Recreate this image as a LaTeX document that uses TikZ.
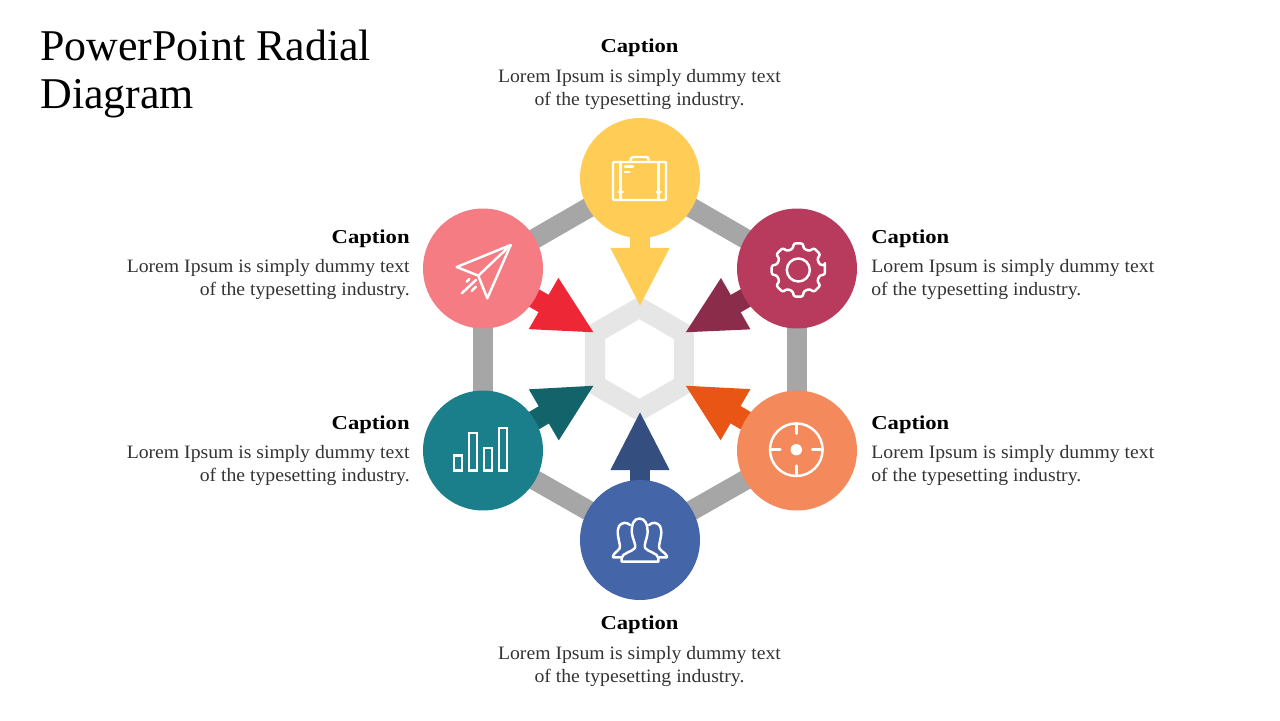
\documentclass[tikz,border=0pt]{standalone}
\usepackage{fontspec}
\setmainfont{Liberation Serif}
\newfontfamily\bodyfont{Liberation Serif}[FakeStretch=1.04]
\newfontfamily\capfont{Liberation Serif}[FakeStretch=1.15,BoldFont={Liberation Serif Bold}]
\usetikzlibrary{arrows.meta,backgrounds}
\definecolor{cyellow}{HTML}{FFCC55}
\definecolor{cpink}{HTML}{F47C82}
\definecolor{cmaroon}{HTML}{B83B5E}
\definecolor{corange}{HTML}{F48A5C}
\definecolor{cblue}{HTML}{4565A9}
\definecolor{cteal}{HTML}{1A7F8A}
\definecolor{dred}{HTML}{EE2737}
\definecolor{dmaroon}{HTML}{8B2C4B}
\definecolor{dorange}{HTML}{E95514}
\definecolor{dblue}{HTML}{344E80}
\definecolor{dteal}{HTML}{13636B}
\definecolor{cgrey}{HTML}{A6A6A6}
\definecolor{chub}{HTML}{E6E6E6}
\definecolor{ctext}{HTML}{333333}
\tikzset{
  x=0.02cm,y=-0.02cm,
  disc/.style={circle,minimum size=2.4cm,inner sep=0pt,outer sep=0pt},
  ring/.style={draw=cgrey,line width=11.4pt},
  hubline/.style={draw=chub,line width=11.4pt,line join=miter},
  pointer/.style={line width=11.4pt,-{Triangle[length=33.6pt,width=31pt]}},
  icon/.style={draw=white,line width=1.4pt,line join=round,line cap=round},
  titletxt/.style={inner sep=0pt,font=\fontsize{25}{27.3}\selectfont,anchor=base west,text=black},
  captxt/.style={inner sep=0pt,font=\capfont\bfseries\fontsize{11.2}{13}\selectfont,text=black},
  bodytxt/.style={inner sep=0pt,font=\bodyfont\fontsize{10.78}{13.1}\selectfont,text=ctext},
}
\begin{document}
\begin{tikzpicture}
\useasboundingbox (0,0) rectangle (1280,720);
\node[disc,fill=cyellow] (top) at (640,178) {};
\node[disc,fill=cmaroon] (ur) at (797,268.5) {};
\node[disc,fill=corange] (lr) at (797,450.5) {};
\node[disc,fill=cblue] (bot) at (640,540) {};
\node[disc,fill=cteal] (ll) at (483,450.5) {};
\node[disc,fill=cpink] (ul) at (483,268.5) {};
\coordinate (ttop) at (640,307);
\coordinate (tur) at (684.5,333);
\coordinate (tlr) at (684.5,385);
\coordinate (tbot) at (640,411);
\coordinate (tll) at (594.7,385);
\coordinate (tul) at (594.7,333);
\begin{scope}[on background layer]
  \draw[ring] (top.center) -- (ur.center);
  \draw[ring] (ur.center) -- (lr.center);
  \draw[ring] (lr.center) -- (bot.center);
  \draw[ring] (bot.center) -- (ll.center);
  \draw[ring] (ll.center) -- (ul.center);
  \draw[ring] (ul.center) -- (top.center);
  \draw[hubline] (639.5,307.6) -- (684,333.3) -- (684,384.7) -- (639.5,410.4) -- (595,384.7) -- (595,333.3) -- cycle;
  \draw[pointer,cyellow] (top.center) -- (ttop);
  \draw[pointer,dmaroon] (ur.center) -- (tur);
  \draw[pointer,dorange] (lr.center) -- (tlr);
  \draw[pointer,dblue] (bot.center) -- (tbot);
  \draw[pointer,dteal] (ll.center) -- (tll);
  \draw[pointer,dred] (ul.center) -- (tul);
\end{scope}
% briefcase
\draw[icon,rounded corners=0.6pt] (613,162) rectangle (666,200);
\draw[icon,rounded corners=1.5pt] (630.7,162) -- (630.7,157) -- (648.7,157) -- (648.7,162);
\draw[icon] (620.7,162) -- (620.7,200) (658.7,162) -- (658.7,200);
\draw[icon] (618.5,192) -- (622.9,192) (656.5,192) -- (660.9,192);
\draw[icon] (625,166.7) -- (633,166.7) (625,172) -- (629.5,172);
% plane
\draw[icon] (510.7,245) -- (456.7,267) -- (478.3,275.7) -- (487.3,298.3) -- cycle;
\draw[icon] (478.3,275.7) -- (510.7,245);
\draw[icon] (461.7,293.3) -- (476,280) (471.7,291) -- (476,286.7) (466.7,281.7) -- (469.3,279);
% gear
\begin{scope}[shift={(798.3,270)}]
  \draw[icon] (0,0) circle[radius=11.5];
  \draw[icon,rounded corners=1.2pt] (-10:27)
    \foreach \a in {0,45,...,315}{
      -- (\a-10:27) -- (\a+10:27) -- (\a+14:22) -- (\a+31:22)
    } -- cycle;
\end{scope}
% target
\begin{scope}[shift={(796.3,449.7)}]
  \draw[icon] (0,0) circle[radius=26.3];
  \fill[white] (0,0) circle[radius=5.7];
  \draw[icon] (0,-26) -- (0,-16) (0,26) -- (0,16) (-26,0) -- (-16,0) (26,0) -- (16,0);
\end{scope}
% bars
\draw[icon,line cap=butt,line join=miter] (454,455.7) rectangle (462,470.7);
\draw[icon,line cap=butt,line join=miter] (469,433) rectangle (477,470.7);
\draw[icon,line cap=butt,line join=miter] (484,448) rectangle (492,470.7);
\draw[icon,line cap=butt,line join=miter] (499,428) rectangle (507,470.7);
% people
\draw[icon] (621.7,561.7) -- (621.7,558) .. controls (622,553) and (632,552) .. (635,548)
  .. controls (636,544) and (633,540) .. (632,534)
  .. controls (631,524) and (634,518.5) .. (639.5,518.5)
  .. controls (645,518.5) and (648,524) .. (647.5,534)
  .. controls (646.5,540) and (644,544) .. (645,548)
  .. controls (648,552) and (658,553) .. (658.3,558) -- (658.3,561.7) -- cycle;
\draw[icon] (630,525) .. controls (627,522) and (622,522) .. (619,526)
  .. controls (616,531) and (619,540) .. (620,546)
  .. controls (621,550) and (614,552) .. (613,556) -- (613,557.3) -- (621.7,557.3);
\draw[icon] (649,525) .. controls (652,522) and (657,522) .. (660,526)
  .. controls (663,531) and (660,540) .. (659,546)
  .. controls (658,550) and (665,552) .. (667,556) -- (667,557.3) -- (658.3,557.3);
% texts
\node[titletxt] (ttl) at (40,60) {PowerPoint Radial};
\node[titletxt] (tt2) at (40,108) {Diagram};
\node[captxt,anchor=base] (c1) at (639.5,52) {Caption};
\node[bodytxt,anchor=base] (b1a) at (639.5,82) {Lorem Ipsum is simply dummy text};
\node[bodytxt,anchor=base] (b1b) at (639.5,105) {of the typesetting industry.};
\node[captxt,anchor=base] (c2) at (639.5,629) {Caption};
\node[bodytxt,anchor=base] (b2a) at (639.5,659) {Lorem Ipsum is simply dummy text};
\node[bodytxt,anchor=base] (b2b) at (639.5,682) {of the typesetting industry.};
\node[captxt,anchor=base east] (c3) at (410,243) {Caption};
\node[bodytxt,anchor=base east] (b3a) at (410,272) {Lorem Ipsum is simply dummy text};
\node[bodytxt,anchor=base east] (b3b) at (410,295) {of the typesetting industry.};
\node[captxt,anchor=base east] (c4) at (410,429) {Caption};
\node[bodytxt,anchor=base east] (b4a) at (410,458) {Lorem Ipsum is simply dummy text};
\node[bodytxt,anchor=base east] (b4b) at (410,481) {of the typesetting industry.};
\node[captxt,anchor=base west] (c5) at (871,243) {Caption};
\node[bodytxt,anchor=base west] (b5a) at (871,272) {Lorem Ipsum is simply dummy text};
\node[bodytxt,anchor=base west] (b5b) at (871,295) {of the typesetting industry.};
\node[captxt,anchor=base west] (c6) at (871,429) {Caption};
\node[bodytxt,anchor=base west] (b6a) at (871,458) {Lorem Ipsum is simply dummy text};
\node[bodytxt,anchor=base west] (b6b) at (871,481) {of the typesetting industry.};
\end{tikzpicture}
\end{document}
